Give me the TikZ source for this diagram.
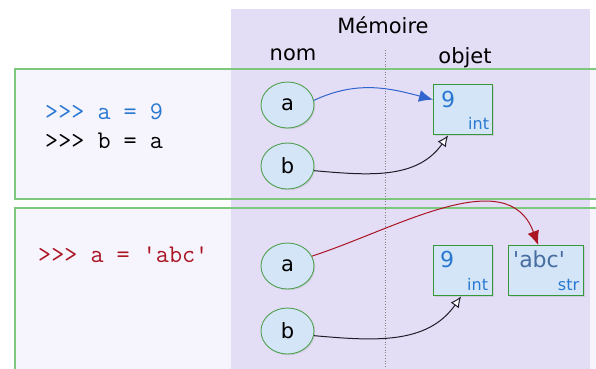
\documentclass[tikz,border=0pt]{standalone}
\usepackage{fontspec}
\setmainfont{DejaVu Sans}
\usetikzlibrary{arrows.meta,shadows,calc,shapes.geometric}
\definecolor{memcol}{RGB}{227,222,246}
\definecolor{panelfill}{RGB}{246,244,252}
\definecolor{panelgreen}{RGB}{125,200,125}
\definecolor{nodefill}{RGB}{212,229,248}
\definecolor{nodegreen}{RGB}{80,160,80}
\definecolor{boxgreen}{RGB}{55,150,55}
\definecolor{pyblue}{RGB}{40,120,210}
\definecolor{arrblue}{RGB}{50,100,205}
\definecolor{pyred}{RGB}{170,20,35}
\definecolor{strcol}{RGB}{70,110,160}
\definecolor{darkline}{RGB}{30,30,40}
\tikzset{
  panel/.style={draw=panelgreen, line width=1.3pt},
  namenode/.style={ellipse, draw=nodegreen, fill=nodefill, line width=0.9pt,
    minimum width=53pt, minimum height=46pt, inner sep=0pt, font=\fontsize{21}{24}\selectfont,
    drop shadow={shadow xshift=1.2pt, shadow yshift=-1.2pt, opacity=0.2}},
  objbox/.style={rectangle, draw=boxgreen, fill=nodefill, line width=1.3pt,
    minimum width=59pt, minimum height=50pt, inner sep=0pt, anchor=north west,
    drop shadow={shadow xshift=1.2pt, shadow yshift=-1.2pt, opacity=0.2}},
  bigval/.style={anchor=base west, inner sep=0pt, font=\fontsize{22}{24}\selectfont},
  typelab/.style={anchor=base east, inner sep=0pt, font=\fontsize{16}{18}\selectfont, text=pyblue},
  code/.style={anchor=base west, inner sep=0pt, font=\ttfamily\fontsize{25.4}{28}\selectfont},
  head/.style={inner sep=0pt, font=\fontsize{21}{24}\selectfont},
  refarrow/.style={line width=1pt},
}
\begin{document}
\begin{tikzpicture}[x=1pt,y=-1pt]
\useasboundingbox (0,0) rectangle (596,368);
\clip (0,0) rectangle (596,368);
% panels background
\fill[panelfill] (15,69) rectangle (610,199);
\fill[panelfill] (15,208) rectangle (610,380);
% memory region
\fill[memcol] (231,9) rectangle (590,380);
% panel borders
\draw[panel] (15,69) rectangle (610,199);
\draw[panel] (15,208) rectangle (610,380);
% headers
\node[head, anchor=base] (mem) at (383,33) {Mémoire};
\node[head, anchor=base] (nom) at (293,60) {nom};
\node[head, anchor=base] (obj) at (465,63) {objet};
\coordinate (dtop) at (385,50);
\coordinate (dbot) at (385,368);
\draw[gray, dotted, line width=0.7pt] (dtop) -- (dbot);
% code
\node[code, text=pyblue] (c1) at (45,119) {>{}>{}> a = 9};
\node[code, text=black] (c2) at (45,148) {>{}>{}> b = a};
\node[code, text=pyred] (c3) at (38,262) {>{}>{}> a = \textquotesingle abc\textquotesingle};
% top panel
\node[namenode] (a1) at (287.5,105) {a};
\node[namenode] (b1) at (287.5,166) {b};
\node[objbox] (o1) at (433,84) {};
\node[bigval, text=pyblue] (v1) at ($(o1.north west)+(8,23)$) {9};
\node[typelab] (t1) at ($(o1.north east)+(-4,45)$) {int};
% bottom panel
\node[namenode] (a2) at (287.5,266) {a};
\node[namenode] (b2) at (287.5,331) {b};
\node[objbox] (o2) at (433,245) {};
\node[bigval, text=pyblue] (v2) at ($(o2.north west)+(7,22)$) {9};
\node[typelab] (t2) at ($(o2.north east)+(-5,45)$) {int};
\node[objbox, minimum width=75pt] (o3) at (508,245) {};
\node[bigval, text=strcol] (v3) at ($(o3.north west)+(5,22)$) {\textquotesingle abc\textquotesingle};
\node[typelab] (t3) at ($(o3.north east)+(-5,45)$) {str};
% arrows
\draw[refarrow, draw=arrblue, -{Latex[length=14pt,width=12pt]}]
  (a1.10) to[out=25,in=165] ([yshift=10pt]o1.west);
\draw[refarrow, draw=darkline, -{Latex[open,length=11pt,width=10pt,fill=white]}]
  (b1.-10) to[out=-5,in=235] ([xshift=-15pt]o1.south);
\draw[refarrow, draw=pyred, -{Latex[length=14pt,width=12pt]}]
  (a2.22) to[out=18,in=110] ([xshift=-8pt]o3.north);
\draw[refarrow, draw=darkline, -{Latex[open,length=11pt,width=10pt,fill=white]}]
  (b2.-10) to[out=-5,in=235] ([xshift=-2pt]o2.south);
\end{tikzpicture}
\end{document}
